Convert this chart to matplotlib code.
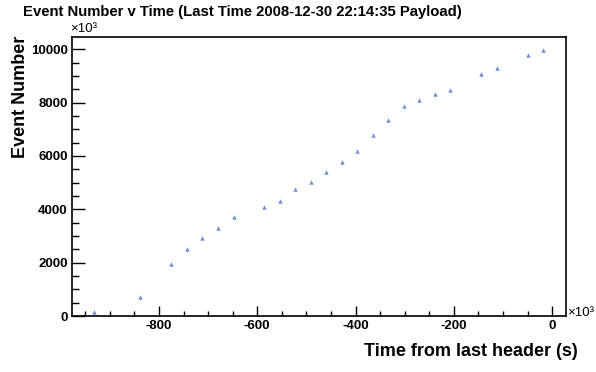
import matplotlib
matplotlib.use("Agg")
import matplotlib.pyplot as plt
from matplotlib.ticker import MultipleLocator

# datos
tiempo = [-932, -839, -776, -743, -712, -680, -647, -586, -554, -523, -491,
          -460, -427, -397, -364, -334, -301, -271, -238, -208, -144, -112, -49, -18]
evento = [160, 720, 1950, 2510, 2940, 3310, 3720, 4100, 4320, 4770, 5040,
          5410, 5790, 6200, 6800, 7360, 7890, 8110, 8340, 8490, 9090, 9310, 9800, 9990]

plt.rcParams['font.family'] = ['Liberation Sans', 'DejaVu Sans']
plt.rcParams['font.weight'] = 'bold'
plt.rcParams['axes.unicode_minus'] = False

fig = plt.figure(figsize=(5.96, 3.72), dpi=100)
ax = fig.add_axes([0.1208, 0.1505, 0.829, 0.75])

ax.plot(tiempo, evento, linestyle='none', marker='^', markersize=3.2,
        color='#6f8fd4', markeredgewidth=0)

ax.set_xlim(-977, 28.5)
ax.set_ylim(0, 10460)

ax.xaxis.set_major_locator(MultipleLocator(200))
ax.xaxis.set_minor_locator(MultipleLocator(50))
ax.yaxis.set_major_locator(MultipleLocator(2000))
ax.yaxis.set_minor_locator(MultipleLocator(500))

ax.tick_params(which='both', direction='in', top=False, right=False,
               labelsize=9.5, width=1, pad=3)
ax.tick_params(axis='x', which='major', length=7)
ax.tick_params(axis='x', which='minor', length=3.6)
ax.tick_params(axis='y', which='major', length=9.5)
ax.tick_params(axis='y', which='minor', length=5)
for lb in ax.get_xticklabels() + ax.get_yticklabels():
    lb.set_fontweight('bold')

for s in ax.spines.values():
    s.set_linewidth(1.2)

fig.text(23/596, 1 - 12/372, "Event Number v Time (Last Time 2008-12-30 22:14:35 Payload)",
         fontsize=10.7, fontweight='bold', ha='left', va='center')
fig.text(21/596, 1 - 36/372, "Event Number", rotation=90, fontsize=13,
         fontweight='bold', ha='center', va='top')
fig.text(578/596, 1 - 352/372, "Time from last header (s)", fontsize=13,
         fontweight='bold', ha='right', va='center')
fig.text(70/596, 1 - 35/372, "×10³", fontsize=9.5, ha='left', va='bottom',
         fontweight='normal')
fig.text(567/596, 1 - 313/372, "×10³", fontsize=9.5, ha='left', va='center',
         fontweight='normal')

fig.savefig("out.png", dpi=100)
